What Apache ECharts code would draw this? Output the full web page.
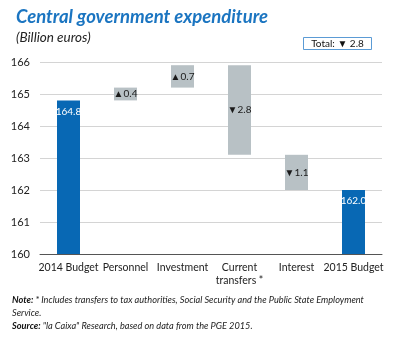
<!DOCTYPE html>
<html><head><meta charset="utf-8">
<script src="https://cdn.jsdelivr.net/npm/echarts@6/dist/echarts.min.js"></script>
<style>html,body{margin:0;padding:0;background:#fff}#c{width:394px;height:338px}</style>
</head><body><div id="c"></div>
<script>
const categories = ['2014 Budget', 'Personnel', 'Investment', 'Current\ntransfers *', 'Interest', '2015 Budget'];
const values = [164.8, 0.4, 0.7, -2.8, -1.1, 162.0];
const isTotal = [true, false, false, false, false, true];
const yTicks = [160, 161, 162, 163, 164, 165, 166];
const totalChange = -2.8;

const BLUE = '#0868b4', GREY = '#b8c1c5';
const base = [], bar = [];
let run = 0;
values.forEach((v, i) => {
  if (isTotal[i]) { base.push(0); bar.push({value: v, itemStyle: {color: BLUE}, label: {position: 'insideTop', distance: 6, color: '#fff', formatter: v.toFixed(1)}}); run = v; }
  else {
    const lo = v >= 0 ? run : run + v;
    base.push(lo);
    bar.push({value: Math.abs(v), itemStyle: {color: GREY}, label: {position: 'inside', color: '#1a1a1a', formatter: (v >= 0 ? '▲' : '▼') + Math.abs(v).toFixed(1)}});
    run += v;
  }
});

const chart = echarts.init(document.getElementById('c'));
chart.setOption({
  animation: false,
  textStyle: {fontFamily: 'Lato'},
  title: [
    {text: 'Central government expenditure', left: 11, top: 3, textStyle: {fontFamily: 'Lato', fontSize: 18.5, fontWeight: 'bold', fontStyle: 'italic', color: '#1b75c1'}},
    {text: '(Billion euros)', left: 11, top: 26, textStyle: {fontFamily: 'Lato', fontSize: 13.5, fontWeight: 'normal', fontStyle: 'italic', color: '#222'}}
  ],
  grid: {left: 40, right: 12, top: 62, bottom: 84},
  xAxis: {
    type: 'category', data: categories,
    axisLine: {lineStyle: {color: '#555'}},
    axisTick: {length: 4, lineStyle: {color: '#555'}},
    axisLabel: {color: '#222', fontSize: 10.5, margin: 7, lineHeight: 13, interval: 0}
  },
  yAxis: {
    type: 'value', min: yTicks[0], max: yTicks[yTicks.length - 1], interval: 1,
    axisLine: {show: false}, axisTick: {show: false},
    axisLabel: {color: '#222', fontSize: 11, margin: 10},
    splitLine: {lineStyle: {color: '#d4d4d4'}}
  },
  series: [
    {type: 'bar', stack: 'w', data: base, itemStyle: {color: 'transparent'}, barWidth: 23, silent: true},
    {type: 'bar', stack: 'w', data: bar, barWidth: 23, label: {show: true, fontSize: 10, fontFamily: 'Lato'}}
  ],
  graphic: [
    {type: 'rect', shape: {x: 303.5, y: 37.5, width: 68, height: 12}, style: {fill: '#fff', stroke: '#5b9bd5', lineWidth: 1}},
    {type: 'text', x: 337.5, y: 43.5, style: {text: 'Total: ' + (totalChange < 0 ? '▼' : '▲') + ' ' + Math.abs(totalChange).toFixed(1), fill: '#111', font: '10px Lato', align: 'center', verticalAlign: 'middle'}},
    {type: 'text', x: 12, y: 294, style: {
      text: '{b|Note:} * Includes transfers to tax authorities, Social Security and the Public State Employment\nService.\n{b|Source:} "la Caixa" Research, based on data from the PGE 2015.',
      font: 'italic 9.2px Lato', fill: '#222', lineHeight: 13,
      rich: {b: {fontWeight: 'bold', fontStyle: 'italic', fontSize: 9.2, fontFamily: 'Lato', fill: '#111'}}
    }}
  ]
});
</script></body></html>
